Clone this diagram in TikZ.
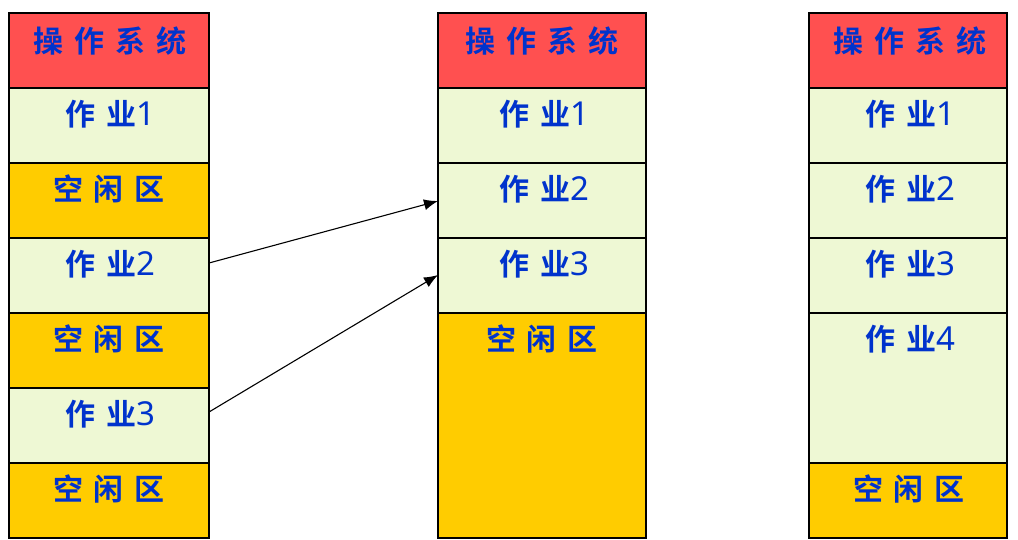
\documentclass[tikz,border=0pt]{standalone}
\usepackage{fontspec}
\usetikzlibrary{arrows.meta}
\newfontfamily\cjk{Noto Sans CJK SC}[BoldFont={Noto Sans CJK SC Bold}]
\newfontfamily\digitfont{Noto Sans}
\definecolor{osred}{HTML}{FF5050}
\definecolor{jobgreen}{HTML}{EEF8D4}
\definecolor{freeyel}{HTML}{FFCC00}
\definecolor{txtblue}{HTML}{0033CC}
\newcommand{\gp}{\hspace{11pt}}
\newcommand{\dg}[1]{{\digitfont\fontsize{33}{33}\selectfont #1}}
\tikzset{
  cell/.style={draw=black, line width=1.6pt},
  lbl/.style={text=txtblue, font=\cjk\bfseries\fontsize{30}{30}\selectfont, anchor=center, inner sep=0pt},
  arr/.style={-{Latex[length=14pt,width=11pt]}, line width=1.1pt}
}
\begin{document}
\begin{tikzpicture}[x=1pt,y=-1pt]
\useasboundingbox (0,0) rectangle (1018,539);
\newcommand{\mycell}[6]{%
  \path[cell, fill=#6] (#2,#3) rectangle (#4,#5);
  \coordinate (#1) at (#2,#3);
}
% Left column
\mycell{L1}{9}{13}{209}{88}{osred}
\mycell{L2}{9}{88}{209}{163}{jobgreen}
\mycell{L3}{9}{163}{209}{238}{freeyel}
\mycell{L4}{9}{238}{209}{313}{jobgreen}
\mycell{L5}{9}{313}{209}{388}{freeyel}
\mycell{L6}{9}{388}{209}{463}{jobgreen}
\mycell{L7}{9}{463}{209}{538}{freeyel}
\node[lbl] (tL1) at (110,41) {操\gp 作\gp 系\gp 统};
\node[lbl] (tL2) at (110,114) {作\gp 业\dg{1}};
\node[lbl] (tL3) at (109,189) {空\gp 闲\gp 区};
\node[lbl] (tL4) at (110,264) {作\gp 业\dg{2}};
\node[lbl] (tL5) at (109,339) {空\gp 闲\gp 区};
\node[lbl] (tL6) at (110,414) {作\gp 业\dg{3}};
\node[lbl] (tL7) at (109,489) {空\gp 闲\gp 区};
% Middle column
\mycell{M1}{438}{13}{646}{88}{osred}
\mycell{M2}{438}{88}{646}{163}{jobgreen}
\mycell{M3}{438}{163}{646}{238}{jobgreen}
\mycell{M4}{438}{238}{646}{313}{jobgreen}
\mycell{M5}{438}{313}{646}{538}{freeyel}
\node[lbl] (tM1) at (542,41) {操\gp 作\gp 系\gp 统};
\node[lbl] (tM2) at (544,114) {作\gp 业\dg{1}};
\node[lbl] (tM3) at (544,189) {作\gp 业\dg{2}};
\node[lbl] (tM4) at (544,264) {作\gp 业\dg{3}};
\node[lbl] (tM5) at (542,339) {空\gp 闲\gp 区};
% Right column
\mycell{R1}{809}{13}{1007}{88}{osred}
\mycell{R2}{809}{88}{1007}{163}{jobgreen}
\mycell{R3}{809}{163}{1007}{238}{jobgreen}
\mycell{R4}{809}{238}{1007}{313}{jobgreen}
\mycell{R5}{809}{313}{1007}{463}{jobgreen}
\mycell{R6}{809}{463}{1007}{538}{freeyel}
\node[lbl] (tR1) at (910,41) {操\gp 作\gp 系\gp 统};
\node[lbl] (tR2) at (910,114) {作\gp 业\dg{1}};
\node[lbl] (tR3) at (910,189) {作\gp 业\dg{2}};
\node[lbl] (tR4) at (910,264) {作\gp 业\dg{3}};
\node[lbl] (tR5) at (910,339) {作\gp 业\dg{4}};
\node[lbl] (tR6) at (909,489) {空\gp 闲\gp 区};
% arrow anchors
\coordinate (a1s) at (209,263);
\coordinate (a1e) at (438,201);
\coordinate (a2s) at (209,412);
\coordinate (a2e) at (438,275);
\draw[arr] (a1s) -- (a1e);
\draw[arr] (a2s) -- (a2e);
\end{tikzpicture}
\end{document}
